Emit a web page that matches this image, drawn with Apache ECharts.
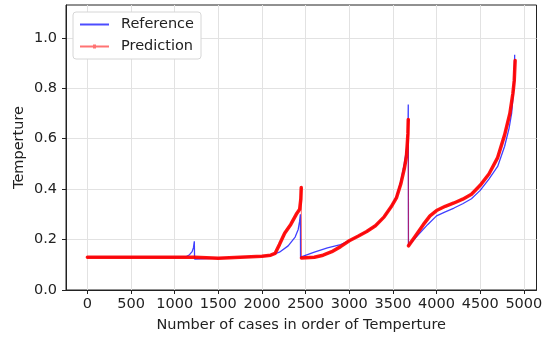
<!DOCTYPE html>
<html>
<head>
<meta charset="UTF-8">
<title></title>
<script src="https://cdn.jsdelivr.net/npm/echarts@6/dist/echarts.min.js"></script>
<style>
  html, body { margin: 0; padding: 0; background: #fff; }
  #chart { width: 547px; height: 338px; }
</style>
</head>
<body>
<div id="chart"></div>
<script type="text/javascript">
// Reference curve (blue)
var refX = [0, 500, 1000, 1130, 1170, 1200, 1215, 1225, 1228, 1500, 2000, 2100, 2200, 2300, 2380, 2415, 2430, 2440, 2442,
    2600, 2750, 2900, 3000, 3100, 3200, 3300, 3400, 3480, 3540, 3590, 3630, 3660, 3672, 3676, 3678,
    3780, 3900, 4000, 4100, 4200, 4300, 4400, 4500, 4600, 4700, 4780, 4830, 4860, 4880, 4890, 4895];
var refY = [0.13, 0.13, 0.13, 0.132, 0.14, 0.152, 0.168, 0.193, 0.123, 0.126, 0.133, 0.137, 0.15, 0.175, 0.21, 0.24, 0.27, 0.30, 0.13,
    0.15, 0.167, 0.18, 0.195, 0.213, 0.232, 0.255, 0.29, 0.33, 0.37, 0.43, 0.5, 0.57, 0.62, 0.735, 0.175,
    0.215, 0.26, 0.294, 0.31, 0.325, 0.342, 0.362, 0.395, 0.44, 0.49, 0.57, 0.64, 0.70, 0.78, 0.85, 0.933];

// Prediction curve (red)
var predX = [0, 500, 1000, 1225, 1230, 1500, 2000, 2100, 2150, 2200, 2260, 2330, 2393, 2432, 2445, 2450, 2452,
    2600, 2700, 2800, 2900, 3000, 3100, 3200, 3300, 3400, 3480, 3540, 3590, 3630, 3655, 3665, 3672, 3676, 3678,
    3750, 3850, 3925, 4000, 4100, 4200, 4300, 4400, 4500, 4600, 4700, 4780, 4840, 4875, 4890, 4900];
var predY = [0.13, 0.13, 0.13, 0.13, 0.123, 0.126, 0.134, 0.138, 0.145, 0.18, 0.225, 0.26, 0.30, 0.32, 0.36, 0.406, 0.127,
    0.13, 0.138, 0.152, 0.172, 0.195, 0.213, 0.232, 0.255, 0.29, 0.33, 0.365, 0.42, 0.48, 0.53, 0.58, 0.62, 0.676, 0.175,
    0.21, 0.26, 0.294, 0.315, 0.332, 0.345, 0.36, 0.38, 0.415, 0.46, 0.525, 0.615, 0.70, 0.78, 0.83, 0.91];

var xTicks = [0, 500, 1000, 1500, 2000, 2500, 3000, 3500, 4000, 4500, 5000];
var yTicks = [0, 0.2, 0.4, 0.6, 0.8, 1.0];

function pairs(xs, ys) {
    return xs.map(function (x, i) { return [x, ys[i]]; });
}
// thick red strokes break at the sudden drops, a thin line keeps them joined
function broken(xs, ys) {
    var out = [];
    for (var i = 0; i < xs.length; i++) {
        if (i > 0 && ys[i - 1] - ys[i] > 0.1) out.push([xs[i], null]);
        out.push([xs[i], ys[i]]);
    }
    return out;
}

var font = 'DejaVu Sans';
var fs = 14.5;
var ink = '#222';
var chart = echarts.init(document.getElementById('chart'));
chart.setOption({
    animation: false,
    textStyle: { fontFamily: font },
    grid: { left: 66, right: 10.5, top: 5, bottom: 47, show: true, borderColor: ink, borderWidth: 1 },
    legend: {
        left: 73, top: 12, orient: 'vertical',
        itemWidth: 29, itemHeight: 14, itemGap: 7,
        padding: [5, 7, 5, 7],
        backgroundColor: '#fff', borderColor: '#d6d6d6', borderWidth: 1, borderRadius: 3,
        textStyle: { fontFamily: font, fontSize: fs, color: ink, padding: [0, 0, 0, 7] },
        data: [
            {
                name: 'Reference',
                icon: 'path://M0,0 M29,14 M0,6 L29,6 L29,8 L0,8 Z',
                itemStyle: { color: 'rgba(0,0,255,0.7)' }
            },
            {
                name: 'Prediction',
                icon: 'path://M0,0 M29,14 M0,6 L29,6 L29,8 L0,8 Z M13,5 L16,5 L16,9 L13,9 Z',
                itemStyle: { color: 'rgba(255,0,0,0.55)' }
            }
        ]
    },
    xAxis: {
        type: 'value', min: -245, max: 5145,
        name: 'Number of cases in order of Temperture', nameLocation: 'middle', nameGap: 28,
        nameMoveOverlap: false,
        nameTextStyle: { fontFamily: font, fontSize: fs, color: ink },
        axisLine: { show: true, lineStyle: { color: ink } },
        axisTick: { show: true, length: 4, customValues: xTicks, lineStyle: { color: ink } },
        axisLabel: {
            customValues: xTicks, fontFamily: font, fontSize: fs, color: ink, margin: 7,
            formatter: function (v) { return String(v); }
        },
        splitLine: { show: true, lineStyle: { color: '#e2e2e2' } }
    },
    yAxis: {
        type: 'value', min: 0, max: 1.13,
        name: 'Temperture', nameLocation: 'middle', nameGap: 39,
        nameMoveOverlap: false,
        nameTextStyle: { fontFamily: font, fontSize: fs, color: ink },
        axisLine: { show: true, onZero: false, lineStyle: { color: ink } },
        axisTick: { show: true, length: 4, customValues: yTicks, lineStyle: { color: ink } },
        axisLabel: {
            customValues: yTicks, fontFamily: font, fontSize: fs, color: ink, margin: 9,
            formatter: function (v) { return v.toFixed(1); }
        },
        splitLine: { show: true, lineStyle: { color: '#e2e2e2' } }
    },
    series: [
        {
            name: 'Reference', type: 'line', data: pairs(refX, refY),
            symbol: 'none', color: 'rgba(0,0,255,0.75)',
            lineStyle: { width: 1.3, color: 'rgba(0,0,255,0.75)' }
        },
        {
            name: 'Prediction', type: 'line', data: pairs(predX, predY),
            symbol: 'none', color: 'rgba(255,0,0,0.6)',
            lineStyle: { width: 1, color: 'rgba(255,0,0,0.6)' }
        },
        {
            name: 'Prediction', type: 'line', data: broken(predX, predY),
            symbol: 'none', connectNulls: false, color: 'rgba(255,0,0,0.6)',
            lineStyle: { width: 3.5, color: 'rgba(255,0,0,0.92)', cap: 'round', join: 'round' }
        }
    ]
});
</script>
</body>
</html>
